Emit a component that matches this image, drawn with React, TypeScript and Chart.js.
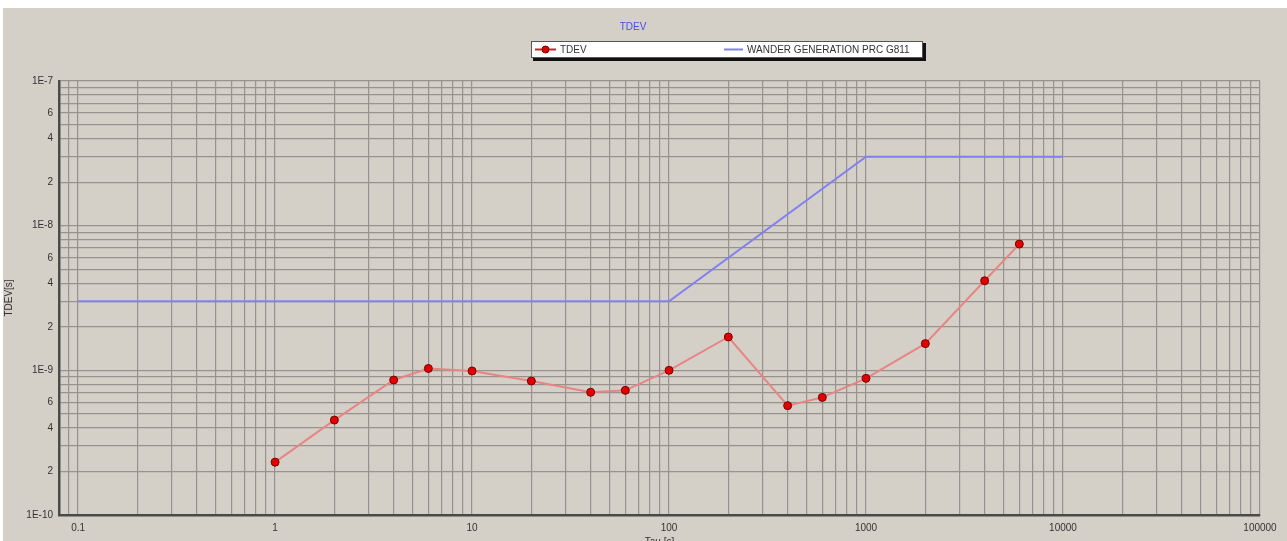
import React, { useEffect, useRef } from 'react';
import { Chart, registerables } from 'chart.js';

Chart.register(...registerables);

const chartTitle = 'TDEV';
const tdevLabel = 'TDEV';
const wanderLabel = 'WANDER GENERATION PRC G811';
const xAxisTitle = 'Tau [s]';
const yAxisTitle = 'TDEV[s]';

const tdevTau = [1, 2, 4, 6, 10, 20, 40, 60, 100, 200, 400, 600, 1000, 2000, 4000, 6000];
const tdevValues = [
  2.32e-10, 4.53e-10, 8.57e-10, 1.03e-9, 9.9e-10, 8.44e-10, 7.05e-10, 7.27e-10,
  1.0e-9, 1.7e-9, 5.7e-10, 6.5e-10, 8.8e-10, 1.53e-9, 4.16e-9, 7.46e-9,
];

const wanderTau = [0.1, 100, 1000, 10000];
const wanderValues = [3e-9, 3e-9, 3e-8, 3e-8];

const xMin = 0.08;
const xMax = 100000;
const yMin = 1e-10;
const yMax = 1e-7;

const xLabelValues = [0.1, 1, 10, 100, 1000, 10000, 100000];
const xTickLabels = ['0.1', '1', '10', '100', '1000', '10000', '100000'];
const yLabelValues = [1e-7, 6e-8, 4e-8, 2e-8, 1e-8, 6e-9, 4e-9, 2e-9, 1e-9, 6e-10, 4e-10, 2e-10, 1e-10];
const yTickLabels = ['1E-7', '6', '4', '2', '1E-8', '6', '4', '2', '1E-9', '6', '4', '2', '1E-10'];

const FONT = '"Liberation Sans", Arial, sans-serif';
const GRID_COLOR = '#96938e';
const TEXT_COLOR = '#333333';

function decadeTicks(min: number, max: number): number[] {
  const out: number[] = [];
  const start = Math.floor(Math.log10(min));
  const end = Math.ceil(Math.log10(max));
  for (let e = start; e <= end; e++) {
    for (let m = 1; m <= 9; m++) {
      const v = Number((m * Math.pow(10, e)).toPrecision(6));
      if (v >= min * 0.9999 && v <= max * 1.0001) out.push(v);
    }
  }
  return out;
}

function labelFor(v: number, values: number[], labels: string[]): string {
  for (let i = 0; i < values.length; i++) {
    if (Math.abs(v / values[i] - 1) < 1e-6) return labels[i];
  }
  return '';
}

const overlayPlugin = {
  id: 'overlay',
  afterDraw(chart: any) {
    const ctx = chart.ctx as CanvasRenderingContext2D;
    ctx.save();
    // title
    ctx.font = `10px ${FONT}`;
    ctx.fillStyle = '#4a4af0';
    ctx.textAlign = 'center';
    ctx.textBaseline = 'middle';
    ctx.fillText(chartTitle, 630, 19);

    // legend box
    const bx = 528, by = 33, bw = 392, bh = 17;
    ctx.fillStyle = '#111';
    ctx.fillRect(bx + 2, by + 2, bw + 1, bh + 1);
    ctx.fillStyle = '#ffffff';
    ctx.fillRect(bx, by, bw, bh);
    ctx.strokeStyle = '#555';
    ctx.lineWidth = 1;
    ctx.strokeRect(bx + 0.5, by + 0.5, bw - 1, bh - 1);

    const cy = by + bh / 2;
    // TDEV item
    ctx.strokeStyle = '#d42020';
    ctx.lineWidth = 2;
    ctx.beginPath();
    ctx.moveTo(532, cy);
    ctx.lineTo(553, cy);
    ctx.stroke();
    ctx.beginPath();
    ctx.arc(542.5, cy, 3.5, 0, Math.PI * 2);
    ctx.fillStyle = '#e00000';
    ctx.fill();
    ctx.strokeStyle = '#7a0000';
    ctx.lineWidth = 1;
    ctx.stroke();
    ctx.fillStyle = TEXT_COLOR;
    ctx.textAlign = 'left';
    ctx.font = `10px ${FONT}`;
    ctx.fillText(tdevLabel, 557, cy + 0.5);

    // wander item
    ctx.strokeStyle = '#8080f0';
    ctx.lineWidth = 2;
    ctx.beginPath();
    ctx.moveTo(721, cy);
    ctx.lineTo(740, cy);
    ctx.stroke();
    ctx.fillStyle = TEXT_COLOR;
    ctx.fillText(wanderLabel, 744, cy + 0.5);
    ctx.restore();
  },
};

export default function App() {
  const canvasRef = useRef<HTMLCanvasElement | null>(null);

  useEffect(() => {
    const canvas = canvasRef.current;
    if (!canvas) return;
    const xGrid = decadeTicks(xMin, xMax);
    const yGrid = decadeTicks(yMin, yMax);

    const chart = new Chart(canvas, {
      type: 'line',
      data: {
        datasets: [
          {
            label: wanderLabel,
            data: wanderTau.map((t, i) => ({ x: t, y: wanderValues[i] })),
            borderColor: '#8080f0',
            borderWidth: 2,
            pointRadius: 0,
            tension: 0,
            fill: false,
          },
          {
            label: tdevLabel,
            data: tdevTau.map((t, i) => ({ x: t, y: tdevValues[i] })),
            borderColor: '#e88484',
            borderWidth: 2,
            pointRadius: 4,
            pointBackgroundColor: '#e00000',
            pointBorderColor: '#7a0000',
            pointBorderWidth: 1,
            tension: 0,
            fill: false,
          },
        ],
      },
      options: {
        responsive: false,
        maintainAspectRatio: false,
        animation: false,
        events: [],
        layout: { padding: { top: 73, right: 27, left: 0, bottom: 0 } },
        plugins: {
          legend: { display: false },
          title: { display: false },
          tooltip: { enabled: false },
        },
        scales: {
          x: {
            type: 'logarithmic',
            min: xMin,
            max: xMax,
            afterFit: (s: any) => {
              s.height = 38;
            },
            afterBuildTicks: (s: any) => {
              s.ticks = xGrid.map((v) => ({ value: v }));
            },
            grid: { color: GRID_COLOR, lineWidth: 1.2, drawTicks: false },
            border: { display: true, color: '#4a4a4a', width: 2.5 },
            ticks: {
              autoSkip: false,
              maxRotation: 0,
              minRotation: 0,
              padding: 7,
              color: TEXT_COLOR,
              font: { family: FONT, size: 10 },
              callback: (v: any) => labelFor(Number(v), xLabelValues, xTickLabels),
            },
            title: {
              display: true,
              text: xAxisTitle,
              color: TEXT_COLOR,
              font: { family: FONT, size: 10, lineHeight: 1 },
              padding: { top: 0, bottom: 5.5 },
            },
          },
          y: {
            type: 'logarithmic',
            min: yMin,
            max: yMax,
            afterFit: (s: any) => {
              s.width = 56;
            },
            afterBuildTicks: (s: any) => {
              s.ticks = yGrid.map((v) => ({ value: v }));
            },
            grid: { color: GRID_COLOR, lineWidth: 1.2, drawTicks: false },
            border: { display: true, color: '#4a4a4a', width: 2.5 },
            ticks: {
              autoSkip: false,
              padding: 6,
              color: TEXT_COLOR,
              font: { family: FONT, size: 10 },
              callback: (v: any) => labelFor(Number(v), yLabelValues, yTickLabels),
            },
            title: {
              display: true,
              text: yAxisTitle,
              color: TEXT_COLOR,
              font: { family: FONT, size: 10, lineHeight: 1 },
              padding: { top: 1, bottom: 0 },
            },
          },
        },
      },
      plugins: [overlayPlugin],
    } as any);

    return () => chart.destroy();
  }, []);

  return (
    <div
      style={{
        position: 'fixed',
        left: 3,
        top: 8,
        width: 1284,
        height: 533,
        overflow: 'hidden',
        background: '#d4d0c8',
      }}
    >
      <canvas ref={canvasRef} width={1284} height={545} style={{ display: 'block' }} />
    </div>
  );
}
